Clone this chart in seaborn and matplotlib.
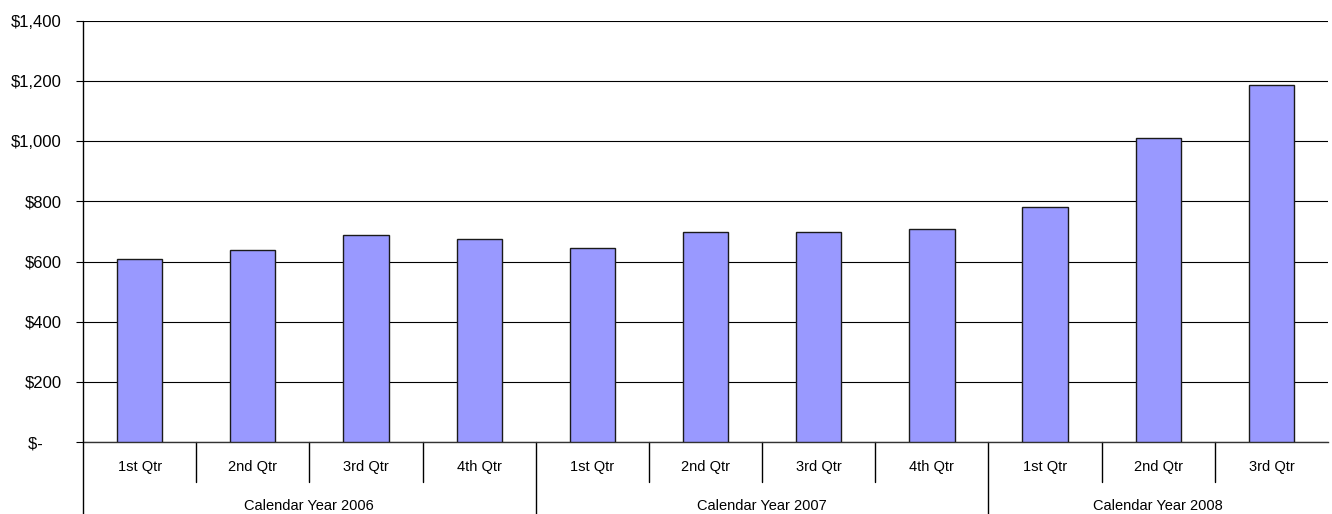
import matplotlib
matplotlib.use("Agg")
import matplotlib.pyplot as plt
import matplotlib.transforms as mtransforms
import seaborn as sns
import pandas as pd

years = ["Calendar Year 2006"] * 4 + ["Calendar Year 2007"] * 4 + ["Calendar Year 2008"] * 3
quarters = ["1st Qtr", "2nd Qtr", "3rd Qtr", "4th Qtr",
            "1st Qtr", "2nd Qtr", "3rd Qtr", "4th Qtr",
            "1st Qtr", "2nd Qtr", "3rd Qtr"]
values = [610, 638, 690, 675, 645, 697, 697, 707, 782, 1010, 1188]
year_groups = ["Calendar Year 2006", "Calendar Year 2007", "Calendar Year 2008"]
y_ticks = [0, 200, 400, 600, 800, 1000, 1200, 1400]

sns.set_theme(style="white")
plt.rcParams["font.family"] = ["Liberation Sans", "DejaVu Sans"]

df = pd.DataFrame({"key": [f"{y}|{q}" for y, q in zip(years, quarters)],
                   "value": values})

fig = plt.figure(figsize=(13.32, 5.14), dpi=100)
ax = fig.add_axes([83 / 1332, 1 - 442 / 514, (1328 - 83) / 1332, (442 - 21) / 514])

sns.barplot(data=df, x="key", y="value", order=list(df["key"]), color="#9999FF",
            saturation=1, width=0.4, edgecolor="#1a1a1a", linewidth=1.0, ax=ax, zorder=3)

ax.set_xlim(-0.5, len(values) - 0.5)
ax.set_ylim(0, 1400)
ax.set_yticks(y_ticks)
ax.set_yticklabels(["$-    " if v == 0 else f"${v:,.0f}" for v in y_ticks], fontsize=12, color="black")
ax.tick_params(axis="y", length=5, width=0.8, color="black", pad=10.5, left=True)
ax.set_xticks([])
ax.set_xlabel("")
ax.set_ylabel("")
ax.yaxis.grid(True, color="black", linewidth=0.8, zorder=0)
ax.set_axisbelow(True)

for side in ["top", "right"]:
    ax.spines[side].set_visible(False)
ax.spines["bottom"].set_color("#333333")
ax.spines["bottom"].set_linewidth(1.0)
ax.spines["left"].set_visible(False)

trans = mtransforms.blended_transform_factory(ax.transData, ax.transAxes)
ah = 442 - 21
q_bottom = -(482 - 442) / ah
y_bottom = -(514 - 442) / ah
q_text = -(467 - 442) / ah
y_text = -(506 - 442) / ah

# left axis line extending down
ax.plot([-0.5, -0.5], [y_bottom, 1.0], transform=trans, color="black", lw=1.0, clip_on=False, zorder=5)

for i in range(1, len(values)):
    is_year_break = years[i] != years[i - 1]
    yb = y_bottom if is_year_break else q_bottom
    ax.plot([i - 0.5, i - 0.5], [0, yb], transform=trans, color="black", lw=1.0, clip_on=False)

for i, q in enumerate(quarters):
    ax.text(i, q_text, q, transform=trans, ha="center", va="center", fontsize=10.5, color="black")

for g in year_groups:
    idx = [i for i, y in enumerate(years) if y == g]
    c = (idx[0] + idx[-1]) / 2
    ax.text(c, y_text, g, transform=trans, ha="center", va="center", fontsize=10.5, color="black")

fig.savefig("out.png", dpi=100)
